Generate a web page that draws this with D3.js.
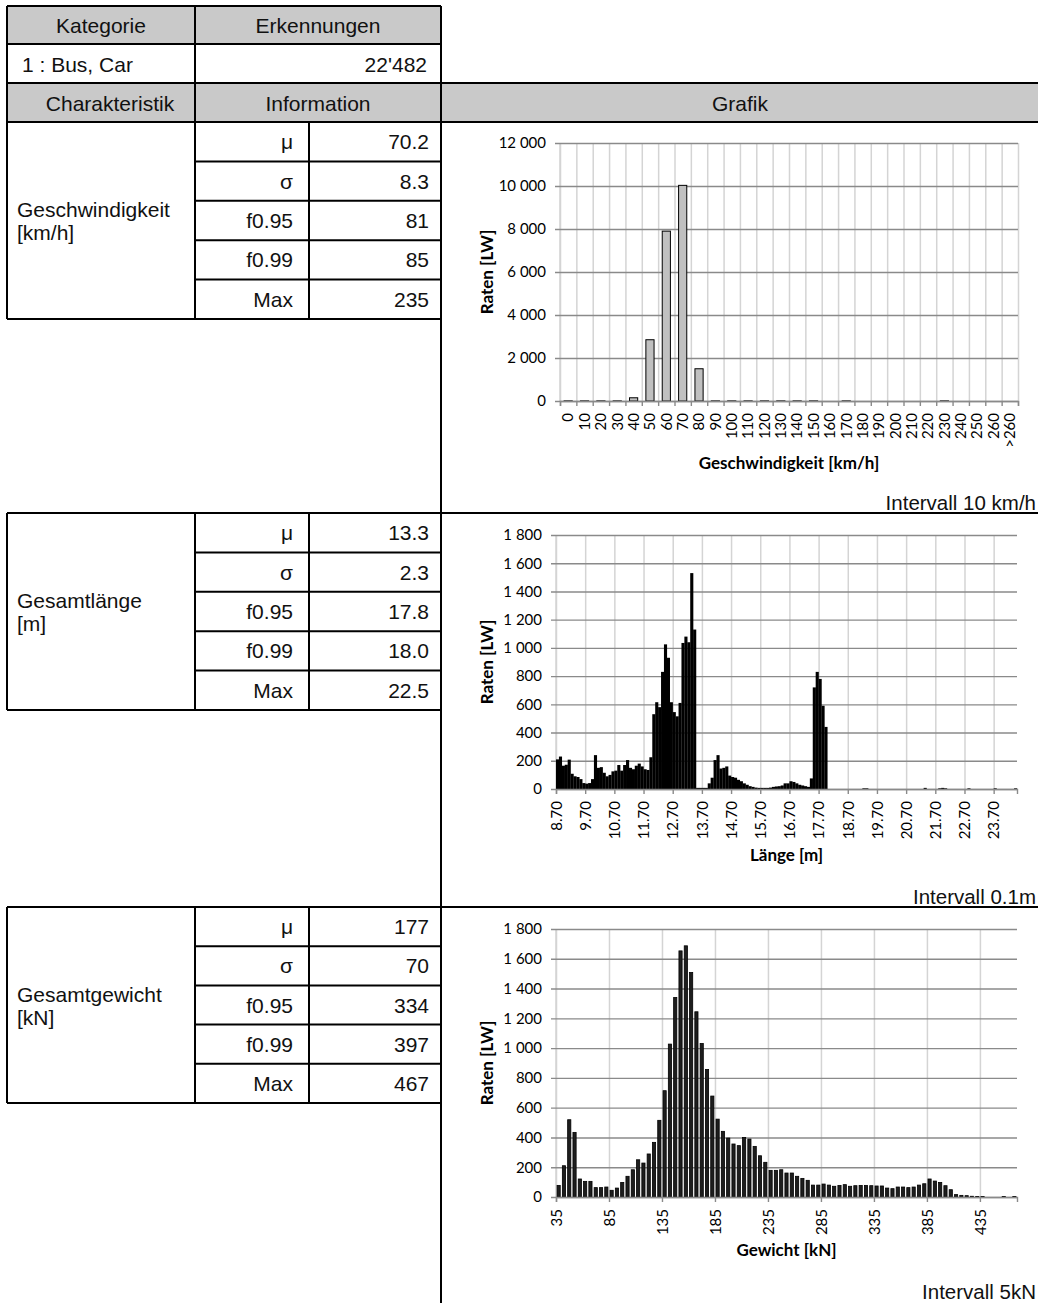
<!DOCTYPE html>
<html><head><meta charset="utf-8">
<script src="https://cdn.jsdelivr.net/npm/d3@7"></script>
<style>body{margin:0;background:#fff}</style>
</head><body><svg id="c" width="1038" height="1303"></svg>
<script>
// ---------------- data ----------------
const headerLabels = ["Kategorie", "Erkennungen"];
const category = "1 : Bus, Car";
const detections = "22'482";
const header2Labels = ["Charakteristik", "Information", "Grafik"];
const statLabels = ["μ", "σ", "f0.95", "f0.99", "Max"];
const sectionNames = [["Geschwindigkeit", "[km/h]"], ["Gesamtlänge", "[m]"], ["Gesamtgewicht", "[kN]"]];
const speedStats = ["70.2", "8.3", "81", "85", "235"];
const lengthStats = ["13.3", "2.3", "17.8", "18.0", "22.5"];
const weightStats = ["177", "70", "334", "397", "467"];
const intervalTexts = ["Intervall 10 km/h", "Intervall 0.1m", "Intervall 5kN"];
const xTitles = ["Geschwindigkeit [km/h]", "Länge [m]", "Gewicht [kN]"];
const yTitle = "Raten [LW]";

const speedCats = ["0","10","20","30","40","50","60","70","80","90","100","110","120","130","140","150","160","170","180","190","200","210","220","230","240","250","260",">260"];
const speedVals = [5,5,5,5,150,2850,7900,10030,1500,5,5,5,5,5,5,5,0,5,0,0,0,0,0,5,0,0,0,0];
const speedTicks = [0,2000,4000,6000,8000,10000,12000];

const lengthStart = 8.7, lengthStep = 0.1;
const lengthVals = [
 210,230,165,172,208,108,90,85,70,42,38,42,70,240,150,155,115,90,100,125,130,170,130,170,205,150,140,165,180,160,140,135,
 225,
 530,615,580,830,1025,930,615,545,515,610,1035,1080,1040,1530,1130,
 8,8,8,8,40,80,205,240,145,150,160,95,85,80,65,55,40,30,20,15,10,8,8,8,8,10,15,18,20,25,40,40,55,50,40,30,25,20,15,75,720,830,780,590,440,
 0,0,0,0,0,0,0,0,0,0,0,0,5,5,0,0,0,0,0,0,0,0,0,0,0,0,0,0,0,0,0,0,0,8,0,0,0,0,5,8,5,0,0,0,0,0,0,0,5,0,0,0,0,0,0,0,0,5,0,0,0,0,0,0,5
];
const lengthTickLabels = ["8.70","9.70","10.70","11.70","12.70","13.70","14.70","15.70","16.70","17.70","18.70","19.70","20.70","21.70","22.70","23.70"];
const lengthYTicks = [0,200,400,600,800,1000,1200,1400,1600,1800];

const weightStart = 35, weightStep = 5;
const weightVals = [78,210,519,434,121,105,105,63,63,67,
 45,60,98,139,183,250,228,289,367,515,
 714,1027,1340,1653,1687,1508,1244,1031,857,678,
 523,441,396,356,345,400,389,340,277,233,
 179,179,183,161,161,139,125,112,80,80,
 87,80,72,78,83,72,76,78,78,76,
 74,74,60,56,67,67,63,67,80,89,
 121,107,98,76,49,16,11,9,5,4,
 4,0,0,0,3,0,3];
const weightTickLabels = ["35","85","135","185","235","285","335","385","435"];
const weightYTicks = [0,200,400,600,800,1000,1200,1400,1600,1800];

// ---------------- layout ----------------
const svg = d3.select("#c");
const TF = "'Liberation Sans', Arial, sans-serif";
const CF = "Lato, 'Open Sans', sans-serif";
const colX = [7, 195, 309, 441, 1038];
const sections = [{top:122, bottom:319}, {top:513, bottom:710}, {top:907, bottom:1103}];
const fs = 21;

svg.append("rect").attr("x",colX[0]).attr("y",6).attr("width",colX[3]-colX[0]).attr("height",38).attr("fill","#c9c9c9");
svg.append("rect").attr("x",colX[0]).attr("y",83).attr("width",colX[4]-colX[0]).attr("height",39).attr("fill","#c9c9c9");

const lines = svg.append("g").attr("stroke","#000").attr("stroke-width",2);
function L(x1,y1,x2,y2){lines.append("line").attr("x1",x1).attr("y1",y1).attr("x2",x2).attr("y2",y2);}
L(colX[0],6,colX[3],6); L(colX[0],44,colX[3],44);
L(colX[0],83,colX[4],83); L(colX[0],122,colX[4],122);
L(colX[3],6,colX[3],1303);
L(colX[0],6,colX[0],122); L(colX[1],6,colX[1],122);
sections.forEach((s,si)=>{
  if(si>0) L(colX[0],s.top,colX[4],s.top);
  L(colX[0],s.bottom,colX[3],s.bottom);
  L(colX[0],s.top,colX[0],s.bottom);
  L(colX[1],s.top,colX[1],s.bottom);
  L(colX[2],s.top,colX[2],s.bottom);
  const rh=(s.bottom-s.top)/5;
  for(let r=1;r<5;r++) L(colX[1],s.top+r*rh,colX[3],s.top+r*rh);
});

function T(txt,x,yc,anchor,opts={}){
  return svg.append("text").attr("x",x).attr("y",yc+ (opts.size||fs)*0.36).attr("text-anchor",anchor)
    .attr("font-family",opts.family||TF).attr("font-size",opts.size||fs).attr("font-weight",opts.weight||"normal")
    .attr("fill","#111").text(txt);
}
T(headerLabels[0],101,25,"middle"); T(headerLabels[1],318,25,"middle");
T(category,22,64,"start"); T(detections,427,64,"end");
T(header2Labels[0],110,103,"middle"); T(header2Labels[1],318,103,"middle"); T(header2Labels[2],740,103,"middle");
const allStats=[speedStats,lengthStats,weightStats];
sections.forEach((s,si)=>{
  const rh=(s.bottom-s.top)/5;
  statLabels.forEach((l,r)=>{
    T(l,293,s.top+rh*(r+0.5),"end");
    T(allStats[si][r],429,s.top+rh*(r+0.5),"end");
  });
  const mid=(s.top+s.bottom)/2;
  T(sectionNames[si][0],17,mid-11,"start");
  T(sectionNames[si][1],17,mid+12,"start");
});

// ---------------- charts ----------------
const gridDark="#8a8a8a", gridLight="#d4d4d4";
function fmt(v){return d3.format(",")(v).replace(/,/g," ");}

function chart(o){
  const g=svg.append("g");
  const n=o.cats.length;
  const y=d3.scaleLinear().domain([0,o.ymax]).range([o.y1,o.y0]);
  const xb=d3.scaleBand().domain(o.cats).range([o.x0,o.x1]).paddingInner(o.padIn).paddingOuter(o.padOut);
  const xi=d3.scaleLinear().domain([0,n]).range([o.x0,o.x1]);
  g.append("g").attr("transform",`translate(0,${o.y1})`)
    .call(d3.axisBottom(xi).tickValues(o.vGrid).tickSize(-(o.y1-o.y0)).tickFormat(""))
    .call(a=>{a.select(".domain").remove();a.selectAll("line").attr("stroke",gridLight).attr("stroke-width",1.5);});
  g.append("line").attr("x1",o.x0).attr("x2",o.x0).attr("y1",o.y0).attr("y2",o.y1).attr("stroke",gridLight).attr("stroke-width",1.5);
  g.append("g").attr("transform",`translate(${o.x0-5},0)`)
    .call(d3.axisLeft(y).tickValues(o.yticks).tickSize(-(o.x1-o.x0+5)).tickPadding(9).tickFormat(fmt))
    .call(a=>{a.select(".domain").remove();
      a.selectAll("line").attr("stroke",gridDark).attr("stroke-width",1.4);
      a.selectAll("text").attr("font-family",CF).attr("font-size",15).attr("fill","#000");});
  g.append("g").selectAll("rect").data(o.vals).join("rect")
    .attr("x",(d,i)=>xb(o.cats[i]))
    .attr("width",xb.bandwidth()+o.barExtra)
    .attr("y",d=>y(d)).attr("height",d=>o.y1-y(d))
    .attr("fill",o.fill).attr("stroke",o.stroke).attr("stroke-width",o.sw);
  g.append("g").attr("transform",`translate(0,${o.y1})`)
    .call(d3.axisBottom(xi).tickValues(o.tickIdx).tickSize(5).tickFormat(""))
    .call(a=>{a.select(".domain").attr("stroke",gridDark).attr("stroke-width",1.4);
      a.selectAll("line").attr("stroke",gridDark).attr("stroke-width",1.4);});
  const labScale = o.labelCenter ? xb : xi;
  const labAxis = d3.axisBottom(labScale).tickSize(0).tickFormat(o.labFmt);
  if(o.labValues) labAxis.tickValues(o.labValues);
  g.append("g").attr("transform",`translate(0,${o.y1})`)
    .call(labAxis)
    .call(a=>{a.select(".domain").remove();
      a.selectAll("text").attr("transform","rotate(-90)").attr("x",-12).attr("y",0).attr("dy","0.35em")
        .attr("text-anchor","end").attr("font-family",CF).attr("font-size",15).attr("fill","#000");});
  svg.append("text").attr("transform",`translate(${o.ytx},${(o.y0+o.y1)/2}) rotate(-90)`).attr("text-anchor","middle")
    .attr("dy","0.35em").attr("font-family",CF).attr("font-weight","bold").attr("font-size",17).attr("fill","#000").text(yTitle);
  svg.append("text").attr("x",(o.x0+o.x1)/2).attr("y",o.xty).attr("dy","0.35em").attr("text-anchor","middle")
    .attr("font-family",CF).attr("font-weight","bold").attr("font-size",17).attr("fill","#000").text(o.xTitle);
  svg.append("text").attr("x",1036).attr("y",o.intY).attr("text-anchor","end").attr("font-family",TF).attr("font-size",20.5)
    .attr("fill","#111").text(o.intText);
}

chart({cats:speedCats, vals:speedVals, ymax:12000, yticks:speedTicks,
  x0:560, x1:1018, y0:143, y1:401, padIn:0.5, padOut:0.25, barExtra:0,
  fill:"#c0c0c0", stroke:"#000", sw:1,
  vGrid:d3.range(speedCats.length+1), tickIdx:d3.range(speedCats.length+1),
  labelCenter:true, labFmt:d=>d, labValues:null,
  ytx:487, xty:463, xTitle:xTitles[0], intY:510, intText:intervalTexts[0]});

const lengthCats = lengthVals.map((v,i)=>(lengthStart+i*lengthStep).toFixed(2));
const lengthTickIdx = lengthTickLabels.map(l=>lengthCats.indexOf(l));
chart({cats:lengthCats, vals:lengthVals, ymax:1800, yticks:lengthYTicks,
  x0:556, x1:1017, y0:535, y1:789, padIn:0, padOut:0, barExtra:0.2,
  fill:"#000", stroke:"none", sw:0,
  vGrid:lengthTickIdx, tickIdx:lengthTickIdx,
  labelCenter:false, labFmt:i=>lengthCats[i], labValues:lengthTickIdx,
  ytx:487, xty:855, xTitle:xTitles[1], intY:904, intText:intervalTexts[1]});

const weightCats = weightVals.map((v,i)=>String(weightStart+i*weightStep));
const weightTickIdx = weightTickLabels.map(l=>weightCats.indexOf(l));
chart({cats:weightCats, vals:weightVals, ymax:1800, yticks:weightYTicks,
  x0:556, x1:1017, y0:929, y1:1197, padIn:0.4, padOut:0.2, barExtra:0,
  fill:"#1e1e1e", stroke:"#000", sw:0.8,
  vGrid:weightTickIdx, tickIdx:weightTickIdx,
  labelCenter:false, labFmt:i=>weightCats[i], labValues:weightTickIdx,
  ytx:487, xty:1250, xTitle:xTitles[2], intY:1299, intText:intervalTexts[2]});
</script></body></html>
